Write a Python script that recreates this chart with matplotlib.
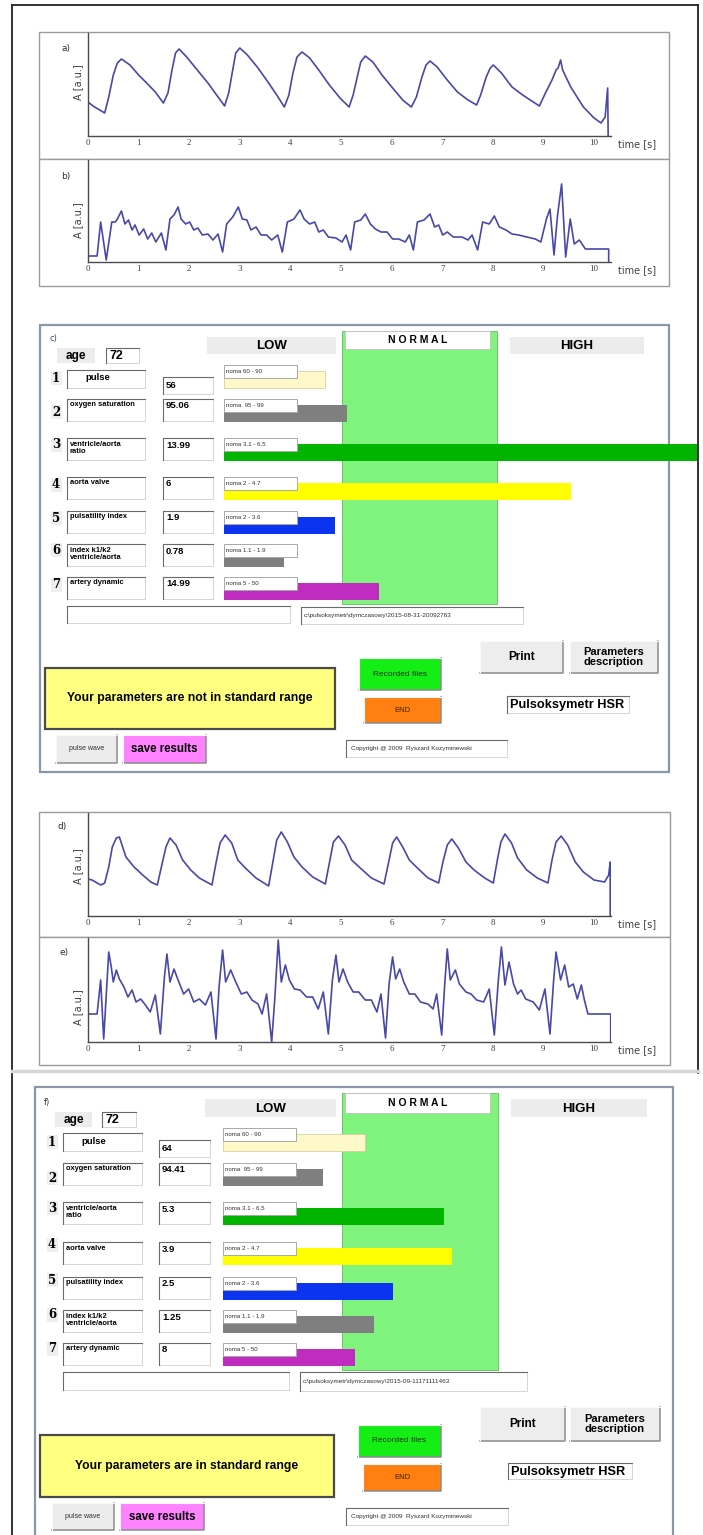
import matplotlib
matplotlib.use("Agg")
import matplotlib.pyplot as plt
from matplotlib.patches import Rectangle

W, H = 703, 1535

# ---------------- waveform data (time [s], amplitude [a.u.]) ----------------
a_t = [0, 0, 0.10, 0.33, 0.41, 0.50, 0.58, 0.66, 0.83, 1.00, 1.16, 1.33, 1.49,
       1.58, 1.66, 1.73, 1.80, 1.95, 2.16, 2.37, 2.57, 2.70,
       2.78, 2.86, 2.92, 3.00, 3.15, 3.36, 3.57, 3.73, 3.88,
       3.97, 4.05, 4.13, 4.23, 4.38, 4.56, 4.77, 4.98, 5.16,
       5.24, 5.33, 5.39, 5.48, 5.63, 5.81, 6.02, 6.22, 6.39,
       6.49, 6.60, 6.68, 6.76, 6.90, 7.10, 7.30, 7.51, 7.68,
       7.76, 7.87, 7.95, 8.01, 8.17, 8.38, 8.59, 8.80, 8.92,
       9.05, 9.17, 9.25, 9.29, 9.34, 9.38, 9.54, 9.79, 10.00, 10.14, 10.22, 10.27, 10.28]
a_amp = [0, 34, 30, 23, 39, 61, 73, 77, 71, 61, 53, 44, 33,
         43, 66, 83, 87, 79, 66, 53, 39, 30,
         43, 66, 83, 88, 81, 68, 53, 41, 29,
         41, 63, 79, 84, 78, 66, 51, 38, 29,
         41, 61, 74, 80, 74, 61, 48, 36, 29,
         39, 59, 71, 75, 69, 56, 44, 36, 31,
         41, 59, 68, 71, 63, 49, 41, 34, 30,
         44, 56, 66, 68, 76, 66, 49, 29, 18, 13, 19, 48, 0]

b_t = [0, 0.18, 0.25, 0.36, 0.47, 0.54, 0.58, 0.66, 0.73, 0.80, 0.87, 0.93, 1.01, 1.10, 1.18, 1.26, 1.34, 1.45, 1.54,
       1.62, 1.70, 1.78, 1.84, 1.93, 2.01, 2.09, 2.17, 2.26, 2.37, 2.47, 2.57, 2.66,
       2.74, 2.86, 2.97, 3.05, 3.14, 3.22, 3.32, 3.42, 3.53, 3.63, 3.75, 3.84,
       3.94, 4.07, 4.19, 4.27, 4.38, 4.48, 4.56, 4.65, 4.75, 4.90, 5.02, 5.10, 5.19,
       5.27, 5.39, 5.48, 5.58, 5.68, 5.79, 5.91, 6.02, 6.14, 6.27, 6.35, 6.43,
       6.51, 6.64, 6.76, 6.85, 6.93, 7.01, 7.10, 7.22, 7.39, 7.51, 7.59, 7.70,
       7.80, 7.93, 8.03, 8.13, 8.26, 8.38, 8.51, 8.67, 8.84, 8.95,
       9.06, 9.13, 9.21, 9.28, 9.36, 9.44, 9.53, 9.61, 9.71, 9.83, 10.29, 10.29]
b_amp = [6, 6, 40, 2, 40, 40, 43, 51, 38, 42, 32, 37, 27, 33, 23, 29, 20, 29, 12,
         43, 47, 55, 43, 38, 40, 32, 34, 27, 28, 22, 28, 10,
         38, 45, 55, 43, 42, 32, 35, 27, 27, 22, 27, 10,
         40, 43, 52, 43, 38, 40, 30, 32, 25, 24, 20, 27, 12,
         40, 42, 48, 38, 33, 30, 30, 23, 23, 20, 27, 12,
         40, 42, 48, 35, 37, 27, 30, 25, 25, 22, 27, 12,
         40, 38, 46, 35, 32, 28, 27, 25, 23, 20,
         43, 53, 7, 47, 78, 5, 43, 18, 22, 13, 13, 0]

d_t = [0, 0, 0.08, 0.25, 0.33, 0.41, 0.48, 0.56, 0.62, 0.75, 0.91, 1.08, 1.24, 1.37,
       1.45, 1.54, 1.62, 1.74, 1.87, 2.03, 2.20, 2.45,
       2.53, 2.61, 2.71, 2.84, 2.96, 3.11, 3.32, 3.57,
       3.65, 3.73, 3.82, 3.94, 4.07, 4.23, 4.44, 4.69,
       4.77, 4.85, 4.95, 5.08, 5.21, 5.38, 5.60, 5.85,
       5.93, 6.02, 6.10, 6.22, 6.35, 6.51, 6.72, 6.93,
       7.01, 7.10, 7.19, 7.32, 7.47, 7.63, 7.84, 8.01,
       8.09, 8.16, 8.24, 8.37, 8.49, 8.67, 8.88, 9.09,
       9.17, 9.25, 9.35, 9.48, 9.63, 9.79, 10.00, 10.21, 10.29, 10.32, 10.32]
d_amp = [0, 37, 36, 31, 33, 49, 69, 78, 79, 59, 49, 41, 34, 31,
         49, 69, 78, 71, 56, 46, 38, 31,
         53, 73, 81, 73, 56, 48, 38, 30,
         53, 76, 84, 74, 59, 49, 39, 32,
         53, 74, 80, 71, 56, 48, 38, 32,
         51, 73, 79, 69, 56, 48, 38, 33,
         53, 71, 77, 68, 54, 46, 38, 33,
         56, 74, 82, 73, 58, 46, 38, 33,
         56, 74, 80, 71, 54, 44, 36, 34, 41, 54, 0]

e_t = [0, 0.18, 0.25, 0.31, 0.41, 0.46, 0.50, 0.56, 0.62, 0.71, 0.79, 0.87, 0.95, 1.04, 1.12, 1.23, 1.33, 1.43,
       1.51, 1.56, 1.62, 1.70, 1.78, 1.89, 1.99, 2.09, 2.20, 2.32, 2.43, 2.53,
       2.59, 2.66, 2.72, 2.82, 2.92, 3.03, 3.14, 3.24, 3.36, 3.44, 3.53, 3.63,
       3.69, 3.76, 3.82, 3.90, 3.98, 4.08, 4.19, 4.32, 4.44, 4.55, 4.65, 4.75,
       4.83, 4.90, 4.96, 5.04, 5.13, 5.24, 5.35, 5.48, 5.60, 5.71, 5.79, 5.88,
       5.95, 6.02, 6.08, 6.16, 6.24, 6.35, 6.46, 6.57, 6.72, 6.82, 6.89, 6.99,
       7.05, 7.10, 7.16, 7.26, 7.34, 7.47, 7.57, 7.68, 7.82, 7.93, 8.03,
       8.11, 8.17, 8.24, 8.32, 8.41, 8.49, 8.56, 8.65, 8.80, 8.92, 9.03, 9.13,
       9.20, 9.25, 9.34, 9.42, 9.50, 9.59, 9.67, 9.75, 9.81, 9.88, 10.33, 10.33]
e_amp = [28, 28, 62, 3, 90, 75, 60, 72, 63, 55, 45, 52, 40, 43, 38, 30, 47, 8,
         65, 88, 60, 73, 62, 48, 53, 40, 43, 37, 50, 3,
         55, 92, 60, 72, 60, 48, 50, 42, 38, 28, 48, 0,
         42, 102, 60, 77, 62, 53, 52, 45, 45, 33, 50, 8,
         62, 87, 60, 73, 60, 50, 50, 42, 42, 30, 48, 4,
         58, 85, 63, 73, 60, 48, 48, 40, 38, 33, 48, 7,
         58, 93, 62, 72, 58, 50, 48, 42, 40, 53, 7,
         62, 95, 57, 80, 58, 48, 52, 43, 40, 32, 53, 8,
         60, 90, 62, 77, 55, 58, 43, 57, 42, 28, 28, 0]

time_ticks = list(range(11))

# ---------------- parameter panels ----------------
param_names = ["pulse", "oxygen saturation", "ventricle/aorta\nratio", "aorta valve",
               "pulsatility index", "index k1/k2\nventricle/aorta", "artery dynamic"]
norm_labels = ["noma 60 - 90", "noma  95 - 99", "noma 3.1 - 6.5", "noma 2 - 4.7",
               "noma 2 - 3.6", "noma 1.1 - 1.9", "noma 5 - 50"]
norm_lo = [60, 95, 3.1, 2, 2, 1.1, 5]
norm_hi = [90, 99, 6.5, 4.7, 3.6, 1.9, 50]
bar_colors = ["#fff8c8", "#7f7f7f", "#00b400", "#ffff00", "#0a34f0", "#7f7f7f", "#c02cc0"]

values_c = [56, 95.06, 13.99, 6, 1.9, 0.78, 14.99]
value_text_c = ["56", "95.06", "13.99", "6", "1.9", "0.78", "14.99"]
values_f = [64, 94.41, 5.3, 3.9, 2.5, 1.25, 8]
value_text_f = ["64", "94.41", "5.3", "3.9", "2.5", "1.25", "8"]
age_text = "72"
message_c = "Your parameters are not in standard range"
message_f = "Your parameters are in standard range"
path_c = "c:\\pulsoksymetr\\dymczasowy\\2015-08-31-20092763"
path_f = "c:\\pulsoksymetr\\dymczasowy\\2015-09-11171111463"

NORM_X0, NORM_W = 345.0, 152.5   # pixel position of the normal range [0, 1]

GUI = "Liberation Sans"
WAVE = "#4848aa"

fig = plt.figure(figsize=(W / 100, H / 100), dpi=100)
fig.patch.set_facecolor("white")


def px_axes(x0, y0, x1, y1):
    return fig.add_axes([x0 / W, 1 - y1 / H, (x1 - x0) / W, (y1 - y0) / H])


def pixel_layer(z):
    ax = px_axes(0, 0, W, H)
    ax.set_xlim(0, W)
    ax.set_ylim(H, 0)
    ax.set_autoscale_on(False)
    ax.axis("off")
    ax.patch.set_alpha(0)
    ax.set_zorder(z)
    return ax


bg = pixel_layer(0)
fg = pixel_layer(3)


def rect(ax, x0, y0, x1, y1, fc="white", ec="none", lw=0.8, z=1):
    ax.add_patch(Rectangle((x0, y0), x1 - x0, y1 - y0, facecolor=fc,
                           edgecolor=ec, linewidth=lw, zorder=z))


def sunken(ax, x0, y0, x1, y1, z=2):
    rect(ax, x0, y0, x1, y1, fc="white", ec="#cfcfcf", lw=0.6, z=z)
    ax.plot([x0, x0, x1], [y1, y0, y0], color="#6a6a6a", lw=0.8, zorder=z + 0.1)


def raised(ax, x0, y0, x1, y1, fc, z=2, dark="#8c8c8c"):
    rect(ax, x0, y0, x1, y1, fc=fc, ec="none", z=z)
    ax.plot([x0, x1, x1], [y1, y1, y0], color=dark, lw=1.1, zorder=z + 0.1)
    ax.plot([x0, x0, x1], [y1, y0, y0], color="#f8f8f8", lw=0.8, zorder=z + 0.1)


def gtext(ax, x, y, s, size, bold=False, ha="center", va="center", **kw):
    ax.text(x, y, s, fontsize=size, fontweight="bold" if bold else "normal",
            family=GUI, ha=ha, va=va, color=kw.pop("color", "black"), zorder=5, **kw)


# ---------------- outer frame ----------------
bg.plot([12, 12], [5, H], color="#222222", lw=1.3)
bg.plot([12, 698], [5, 5], color="#222222", lw=1.3)
bg.plot([698, 698], [5, 1073], color="#222222", lw=1.3)
bg.plot([12, 698], [1071, 1071], color="#d6d6d6", lw=2.5)

# ---------------- waveform panels ----------------
wave_panels = [
    # series, panel box, axes box, tag, tag position, y-label centre
    ((a_t, a_amp), (39, 32, 669, 159), (88, 33, 611, 136), "a)", (66, 48), 82),
    ((b_t, b_amp), (39, 159, 669, 286), (88, 160, 611, 262), "b)", (66, 176), 220),
    ((d_t, d_amp), (39, 812, 670, 937), (88, 813, 611, 916), "d)", (62, 826), 866),
    ((e_t, e_amp), (39, 937, 670, 1065), (88, 938, 611, 1042), "e)", (64, 953), 1007),
]
for (t, amp), pbox, abox, tag, tpos, ylab_y in wave_panels:
    rect(bg, *pbox, fc="white", ec="#9c9c9c", lw=1.0)
    x0, y0, x1, y1 = abox
    ax = px_axes(x0, y0, x1, y1)
    ax.set_zorder(1)
    ax.patch.set_alpha(0)
    ax.plot(t, amp, color=WAVE, lw=1.2, solid_joinstyle="round")
    ax.set_xlim(0, (x1 - x0) / 50.6)
    ax.set_ylim(0, y1 - y0)
    ax.set_xticks(time_ticks)
    ax.set_xticklabels([str(v) for v in time_ticks], family="Liberation Serif",
                       fontsize=6.5, color="#404040")
    ax.set_yticks([])
    ax.tick_params(axis="x", length=0, pad=2.5)
    for side in ("top", "right"):
        ax.spines[side].set_visible(False)
    for side in ("left", "bottom"):
        ax.spines[side].set_color("#4a4a4a")
        ax.spines[side].set_linewidth(1.0)
    bg.text(x1 + 26, y1 + 8, "time [s]", fontsize=7, family="DejaVu Sans",
            color="#404040", ha="center", va="center")
    bg.text(78, ylab_y, "A [a.u.]", fontsize=7, family="DejaVu Sans", color="#404040",
            rotation=90, ha="center", va="center")
    bg.text(tpos[0], tpos[1], tag, fontsize=6.5, family="DejaVu Sans", color="#303030",
            ha="center", va="center")

# ---------------- application screenshots ----------------
layout_c = dict(
    box=(40, 325, 669, 772), tag=(53, 338), tag_color="#2a4a8a",
    age=(57, 348, 95, 363), age_val=(106, 348, 139, 363),
    low=(207, 337, 336, 354), green=(342, 331, 497, 604), normal=(345, 331, 490, 349),
    high=(510, 337, 644, 354),
    num_x=56, lab_x=(67, 145), val_x=(163, 213), norm_x=(224, 297), bar_right=697,
    rows=[365, 399, 438, 477, 511, 544, 577],
    num_y=[378, 412, 445, 485, 518, 550, 585],
    empty=(67, 606, 290, 623), path=(301, 607, 523, 624),
    prt=(480, 641, 563, 673), desc=(570, 641, 658, 673),
    rec=(359, 658, 441, 690), end=(364, 697, 441, 723), hsr=(507, 696, 629, 713),
    msg=(45, 668, 335, 729), pw=(56, 735, 117, 763), save=(123, 735, 206, 763),
    copy=(346, 740, 507, 757),
)
layout_f = dict(
    box=(35, 1087, 673, 1545), tag=(47, 1103), tag_color="#303030",
    age=(55, 1112, 92, 1127), age_val=(102, 1112, 136, 1127),
    low=(205, 1099, 336, 1117), green=(342, 1093, 498, 1370), normal=(345, 1093, 490, 1113),
    high=(511, 1099, 647, 1117),
    num_x=52, lab_x=(63, 142), val_x=(159, 210), norm_x=(223, 296), bar_right=673,
    rows=[1128, 1163, 1202, 1242, 1277, 1310, 1343],
    num_y=[1142, 1178, 1208, 1245, 1280, 1315, 1349],
    empty=(63, 1372, 289, 1390), path=(300, 1372, 527, 1391),
    prt=(480, 1407, 565, 1441), desc=(570, 1407, 660, 1441),
    rec=(358, 1425, 441, 1457), end=(363, 1464, 441, 1491), hsr=(508, 1463, 632, 1479),
    msg=(40, 1435, 334, 1497), pw=(52, 1503, 114, 1530), save=(120, 1503, 204, 1530),
    copy=(346, 1508, 508, 1525),
)


def draw_gui(L, values, value_text, message, path):
    bx0, by0, bx1, by1 = L["box"]
    rect(bg, bx0, by0, bx1, by1, fc="white", ec="#8a97a6", lw=1.6, z=0.5)
    bg.text(*L["tag"], ("c)" if by0 < 800 else "f)"), fontsize=6, family="DejaVu Sans",
            color=L["tag_color"], ha="center", va="center")

    rect(bg, *L["age"], fc="#ececec")
    gtext(bg, (L["age"][0] + L["age"][2]) / 2, (L["age"][1] + L["age"][3]) / 2, "age", 8.5, True)
    sunken(bg, *L["age_val"])
    gtext(bg, L["age_val"][0] + 4, (L["age_val"][1] + L["age_val"][3]) / 2 + 0.5, age_text, 9,
          True, ha="left")

    rect(bg, *L["low"], fc="#ececec")
    gtext(bg, (L["low"][0] + L["low"][2]) / 2, (L["low"][1] + L["low"][3]) / 2 + 0.5, "LOW", 9.5, True)
    rect(bg, *L["high"], fc="#ececec")
    gtext(bg, (L["high"][0] + L["high"][2]) / 2, (L["high"][1] + L["high"][3]) / 2 + 0.5, "HIGH", 9.5, True)
    rect(bg, *L["green"], fc="#80f27e", ec="#5cc25c", lw=0.6, z=1)
    rect(bg, *L["normal"], fc="white", ec="#c0c0c0", lw=0.6, z=2)
    gtext(bg, (L["normal"][0] + L["normal"][2]) / 2, (L["normal"][1] + L["normal"][3]) / 2,
          "N O R M A L", 7.5, True)

    # bars: value placed on a scale where the normal range spans [0, 1]
    bl, br = L["norm_x"][0], L["bar_right"]
    bax = px_axes(bl, by0, br, by1)
    bax.set_zorder(2)
    bax.patch.set_alpha(0)
    bax.axis("off")
    s_left = (bl - NORM_X0) / NORM_W
    bax.set_xlim(s_left, (br - NORM_X0) / NORM_W)
    bax.set_ylim(by1, by0)
    level = [(v - lo) / (hi - lo) for v, lo, hi in zip(values, norm_lo, norm_hi)]
    centers = [T + 14.5 for T in L["rows"]]
    edges = ["#d6cfa0"] + ["none"] * 6
    bax.barh(centers, [s - s_left for s in level], left=s_left, height=17,
             color=bar_colors, edgecolor=edges, linewidth=0.6)

    for i, T in enumerate(L["rows"]):
        # row number
        rect(bg, L["num_x"] - 5, L["num_y"][i] - 7, L["num_x"] + 6, L["num_y"][i] + 7, fc="#eeeeee", z=1)
        bg.text(L["num_x"], L["num_y"][i], str(i + 1), fontsize=8.5, fontweight="bold",
                family="DejaVu Serif", ha="center", va="center", zorder=5)
        lx0, lx1 = L["lab_x"]
        vx0, vx1 = L["val_x"]
        if i == 0:
            sunken(bg, lx0, T + 5, lx1, T + 23)
            sunken(bg, vx0, T + 12, vx1, T + 29)
            gtext(bg, lx0 + 31, T + 13, param_names[i], 6.8, True)
            gtext(bg, vx0 + 3, T + 20.5, value_text[i], 6.8, True, ha="left")
        else:
            sunken(bg, lx0, T, lx1, T + 22)
            sunken(bg, vx0, T, vx1, T + 22)
            gtext(bg, lx0 + 3, T + 2.5, param_names[i], 5.4, True, ha="left", va="top",
                  linespacing=1.05)
            gtext(bg, vx0 + 3, T + 2.5, value_text[i], 6.8, True, ha="left", va="top")
        nx0, nx1 = L["norm_x"]
        rect(fg, nx0, T, nx1, T + 13, fc="white", ec="#a8a8a8", lw=0.7, z=2)
        gtext(fg, nx0 + 2, T + 6.5, norm_labels[i], 4.4, ha="left", color="#303030")

    sunken(bg, *L["empty"])
    sunken(bg, *L["path"])
    gtext(bg, L["path"][0] + 3, (L["path"][1] + L["path"][3]) / 2, path, 4.6, ha="left",
          color="#303030")

    def button(key, label, fc, size, bold, dark="#8c8c8c", **kw):
        x0, y0, x1, y1 = L[key]
        raised(bg, x0, y0, x1, y1, fc, dark=dark)
        gtext(bg, (x0 + x1) / 2, (y0 + y1) / 2, label, size, bold, **kw)

    button("prt", "Print", "#ededed", 8.5, True)
    button("desc", "Parameters\ndescription", "#ededed", 8, True, linespacing=1.1)
    button("rec", "Recorded files", "#14ee14", 6, False, color="#1a3a1a")
    button("end", "END", "#ff7f10", 5.5, False, color="#402000")
    button("pw", "pulse wave", "#ececec", 5, False, color="#303030")
    button("save", "save results", "#ff82ff", 8.3, True)

    x0, y0, x1, y1 = L["hsr"]
    sunken(bg, x0, y0, x1, y1)
    gtext(bg, x0 + 3, (y0 + y1) / 2 + 0.5, "Pulsoksymetr HSR", 9.2, True, ha="left")

    x0, y0, x1, y1 = L["msg"]
    rect(bg, x0, y0, x1, y1, fc="#ffff80", ec="#4a4a4a", lw=1.6, z=2)
    gtext(bg, (x0 + x1) / 2, (y0 + y1) / 2, message, 8.7, True)

    x0, y0, x1, y1 = L["copy"]
    sunken(bg, x0, y0, x1, y1)
    gtext(bg, x0 + 5, (y0 + y1) / 2, "Copyright @ 2009  Ryszard Kozyminewski", 4.6,
          ha="left", color="#303030")


draw_gui(layout_c, values_c, value_text_c, message_c, path_c)
draw_gui(layout_f, values_f, value_text_f, message_f, path_f)

fig.savefig("out.png", dpi=100, facecolor="white")
